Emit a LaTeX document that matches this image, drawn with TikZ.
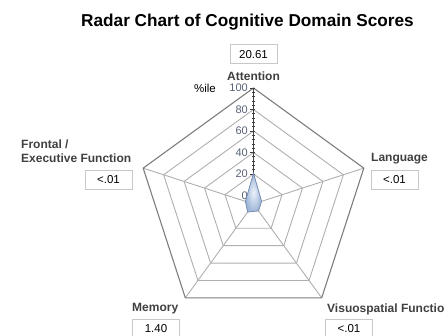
\documentclass[tikz,border=0pt]{standalone}
\usepackage{fontspec}
\setmainfont{Liberation Sans}
\usepackage{tikz}
\usetikzlibrary{positioning}
\definecolor{gridgray}{RGB}{175,175,175}
\definecolor{rimgray}{RGB}{125,125,125}
\definecolor{labgray}{RGB}{64,64,64}
\definecolor{tickblue}{RGB}{88,98,118}
\definecolor{boxgray}{RGB}{200,200,200}
\definecolor{fillin}{RGB}{236,241,249}
\definecolor{fillout}{RGB}{158,182,216}
\definecolor{edgeblue}{RGB}{118,140,176}

\begin{document}
\begin{tikzpicture}[x=1pt,y=1pt,
    domlab/.style={font=\bfseries\fontsize{12}{14}\selectfont, text=labgray, inner sep=0pt},
    valbox/.style={draw=boxgray, line width=1pt, fill=white, minimum width=47pt, minimum height=19pt, inner sep=0pt, font=\fontsize{11.5}{12}\selectfont},
    ticklab/.style={font=\fontsize{11}{12}\selectfont, text=tickblue, inner sep=0pt, anchor=east},
    ring/.style={draw=gridgray, line width=0.9pt}]
    \useasboundingbox (0,-336) rectangle (447,0);
    \clip (0,-336) rectangle (447,0);
    \node [font=\bfseries\fontsize{17.2}{19}\selectfont] (title) at (247.5,-22) {Radar Chart of Cognitive Domain Scores};
    \coordinate (c) at (253.5,-204);
    % web
    \foreach \v in {20,40,60,80} {
      \pgfmathsetmacro\r{8.5+1.075*\v}
      \draw [ring, shift={(c)}] (90:\r) -- (18:\r) -- (-54:\r) -- (-126:\r) -- (162:\r) -- cycle;
    }
    \path (c) ++(90:116) coordinate (a1);
    \path (c) ++(18:116) coordinate (a2);
    \path (c) ++(-54:116) coordinate (a3);
    \path (c) ++(-126:116) coordinate (a4);
    \path (c) ++(162:116) coordinate (a5);
    \draw [ring] (c) -- (a2);
    \draw [ring] (c) -- (a3);
    \draw [ring] (c) -- (a4);
    \draw [ring] (c) -- (a5);
    \draw [draw=rimgray, line width=1.1pt] (a1) -- (a2) -- (a3) -- (a4) -- (a5) -- cycle;
    % value axis
    \draw [labgray, line width=1pt] (c) -- (a1);
    \foreach \v in {0,4,...,100}
      \draw [labgray, line width=0.6pt] (252,{-195.5+1.075*\v}) -- (255,{-195.5+1.075*\v});
    \foreach \v in {0,20,...,100} {
      \draw [labgray, line width=0.8pt] (249.5,{-195.5+1.075*\v}) -- (253.5,{-195.5+1.075*\v});
      \node [ticklab] at (248,{-195.5+1.075*\v}) {\v};
    }
    \node [font=\fontsize{11.5}{12}\selectfont, inner sep=0pt, anchor=east] (pct) at (216,-88) {\%ile};
    % scores
    \draw [edgeblue, line width=0.8pt, inner color=fillin, outer color=fillout]
      ([shift={(90:30.66)}]c) -- ([shift={(18:8.51)}]c) -- ([shift={(-54:8.51)}]c)
      -- ([shift={(-126:10.0)}]c) -- ([shift={(162:8.51)}]c) -- cycle;
    % domains
    \node [domlab] (att) at (253.5,-76) {Attention};
    \node [valbox] (attv) at (253.5,-54.5) {20.61};
    \node [domlab, anchor=west] (lang) at (371,-159) {Language};
    \node [valbox] (langv) at (394.5,-180) {<.01};
    \node [domlab, anchor=west, align=left] (front) at (21,-151) {Frontal /\\Executive Function};
    \node [valbox] (frontv) at (108.5,-180) {<.01};
    \node [domlab, anchor=west] (mem) at (132,-309) {Memory};
    \node [valbox] (memv) at (156,-329) {1.40};
    \node [domlab, anchor=west] (vis) at (327,-309) {Visuospatial Functio};
    \node [valbox] (visv) at (349,-329) {<.01};
  \end{tikzpicture}
\end{document}
